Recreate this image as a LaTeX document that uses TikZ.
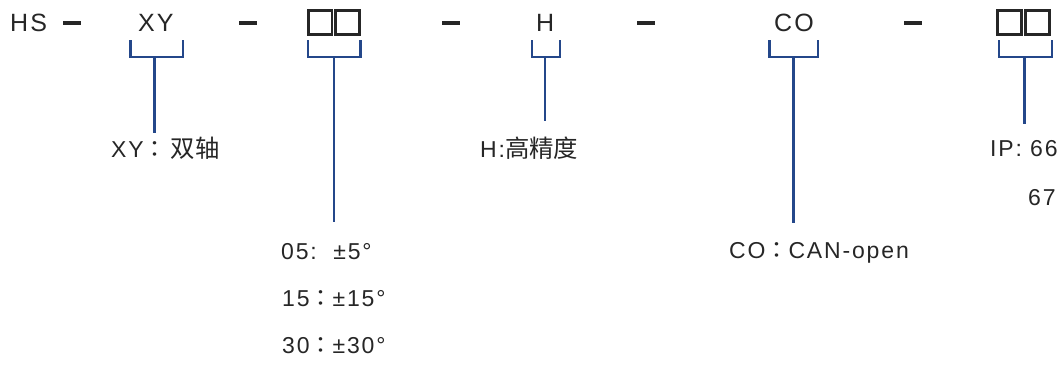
\documentclass[tikz,border=0pt]{standalone}
\usepackage{fontspec}
\setmainfont{Liberation Sans}[LetterSpace=8]
\newfontfamily\cjk{Noto Sans CJK SC}[Scale=1.06]
\newfontfamily\cjkcol{Noto Sans CJK JP}
\newcommand{\fwc}{{\cjkcol ：}}
\definecolor{ink}{HTML}{262626}
\definecolor{brkblue}{HTML}{24478A}
\begin{document}
\begin{tikzpicture}[x=1pt,y=-1pt,
  txt/.style={text=ink, inner sep=0pt, anchor=base west, font=\fontsize{23}{23}\selectfont},
  toptxt/.style={txt, font=\fontsize{25}{25}\selectfont},
  dashbar/.style={fill=ink, draw=none, inner sep=0pt, minimum width=18pt, minimum height=4pt},
  codebox/.style={draw=ink, line width=2.6pt, inner sep=0pt, minimum size=23.6pt},
  brk/.style={draw=brkblue, line width=2.4pt, line join=miter},
  stem/.style={draw=brkblue, line width=2.4pt}]
\useasboundingbox (0,0) rectangle (1063,367);

% top row
\node[toptxt] (hs) at (10,31) {HS};
\node[dashbar] (d1) at (72,23) {};
\node[toptxt] (xy) at (138,31) {XY};
\node[dashbar] (d2) at (248,23) {};
\node[codebox] (b1) at (320,22.5) {};
\node[codebox] (b2) at (347.5,22.5) {};
\node[dashbar] (d3) at (451,23) {};
\node[toptxt] (h) at (536,31) {H};
\node[dashbar] (d4) at (646,23) {};
\node[toptxt] (co) at (774,31) {CO};
\node[dashbar] (d5) at (913,23) {};
\node[codebox] (b3) at (1009.5,22.5) {};
\node[codebox] (b4) at (1037.5,22.5) {};

% labels
\node[txt] (lxy) at (111,157) {XY\fwc\hspace{4pt}{\cjk 双轴}};
\node[txt] (lh) at (480,157) {H:{\cjk 高精度}};
\node[txt] (lip) at (990,156) {IP: 66};
\node[txt] (l67) at (1028,205) {67};
\node[txt] (l05) at (281,259) {05:\ \ ±5°};
\node[txt] (l15) at (282,306) {15\fwc±15°};
\node[txt] (l30) at (282,353) {30\fwc±30°};
\node[txt] (lco) at (729,258) {CO\fwc CAN-open};

% stem end coordinates
\coordinate (exy) at (154.5,133);
\coordinate (eb) at (334,222);
\coordinate (eh) at (545,121);
\coordinate (eco) at (793.5,223);
\coordinate (eip) at (1024.5,124);

% brackets and stems
\draw[brk] (130.5,40) -- (130.5,57) -- (183,57) -- (183,40);
\draw[stem] (154.5,57) -- (exy);
\draw[brk] (308,40) -- (308,57) -- (360.5,57) -- (360.5,40);
\draw[stem] (334,57) -- (eb);
\draw[brk] (532,40) -- (532,57) -- (560,57) -- (560,40);
\draw[stem] (545,57) -- (eh);
\draw[brk] (769.5,40) -- (769.5,57) -- (818,57) -- (818,40);
\draw[stem] (793.5,57) -- (eco);
\draw[brk] (999,40) -- (999,57) -- (1052,57) -- (1052,40);
\draw[stem] (1024.5,57) -- (eip);
\end{tikzpicture}
\end{document}
